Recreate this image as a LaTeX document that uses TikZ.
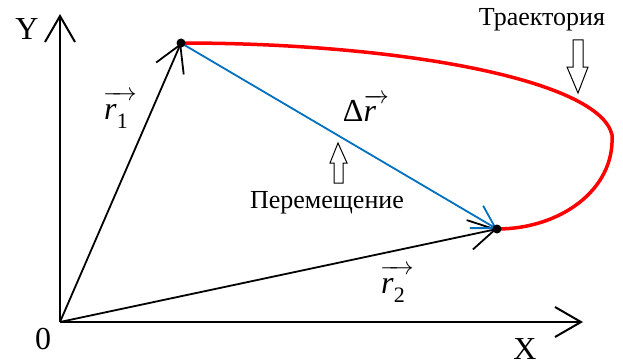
\documentclass[tikz,border=0pt]{standalone}
\usepackage{fontspec}
\setmainfont{Liberation Serif}
\usetikzlibrary{arrows.meta}
\newcommand{\myvec}[2]{$\overrightarrow{\mbox{\rule{0pt}{0.62em}\kern1pt\textit{#1}\raisebox{-0.3em}{\fontsize{22}{22}\selectfont #2}\kern9pt}}$}
\tikzset{
  barb/.style={-{Straight Barb[length=26pt,width=30pt]}},
  axis/.style={line width=2pt, black, barb},
  vecline/.style={line width=1.8pt, black, barb},
  dispv/.style={line width=1.8pt, draw={rgb,255:red,0;green,112;blue,192}, -{Straight Barb[length=22pt,width=26pt]}},
  traj/.style={line width=3.5pt, red},
  dot/.style={circle, fill=black, inner sep=0pt, minimum size=9pt},
  big/.style={font=\fontsize{32}{36}\selectfont},
  mid/.style={font=\fontsize{26}{30}\selectfont},
  hollow/.style={line width=1pt, draw=black, fill=white}
}
\begin{document}
\begin{tikzpicture}[x=1pt,y=-1pt]
\useasboundingbox (0,0) rectangle (623,361);
\coordinate (O) at (60,322);
\coordinate (Ytip) at (60,14);
\coordinate (Xtip) at (583,322);
\coordinate (P1) at (181,43);
\coordinate (P2) at (497,229);
% axes
\draw[axis] (O) -- (Ytip);
\draw[axis] (O) -- (Xtip);
% trajectory
\draw[traj] (P1) .. controls (400,43) and (600,80) .. (612,135) .. controls (615,190) and (560,229) .. (P2);
% vectors
\draw[vecline] (O) -- (P1);
\draw[vecline] (O) -- (P2);
\draw[dispv] (P1) -- (P2);
\node[dot] (D1) at (P1) {};
\node[dot] (D2) at (P2) {};
% hollow arrows
\draw[hollow] (573,40) -- (583,40) -- (583,67) -- (588,67) -- (578,93) -- (567,67) -- (573,67) -- cycle;
\draw[hollow] (334,183) -- (343,183) -- (343,163) -- (347,163) -- (338,143) -- (330,163) -- (334,163) -- cycle;
% labels
\node[big] (ly) at (27,29) {Y};
\node[big] (lx) at (525,349) {X};
\node[big] (l0) at (43,339) {0};
\node[big] (lr1) at (120,110) {\myvec{r}{1}};
\node[big] (lr2) at (397,284) {\myvec{r}{2}};
\node[big] (ldr) at (366,108) {Δ$\overrightarrow{\mbox{\rule{0pt}{0.62em}\textit{r}\kern13pt}}$};
\node[mid] (lt) at (542,20) {Траектория};
\node[mid] (lp) at (327,203) {Перемещение};
\end{tikzpicture}
\end{document}
